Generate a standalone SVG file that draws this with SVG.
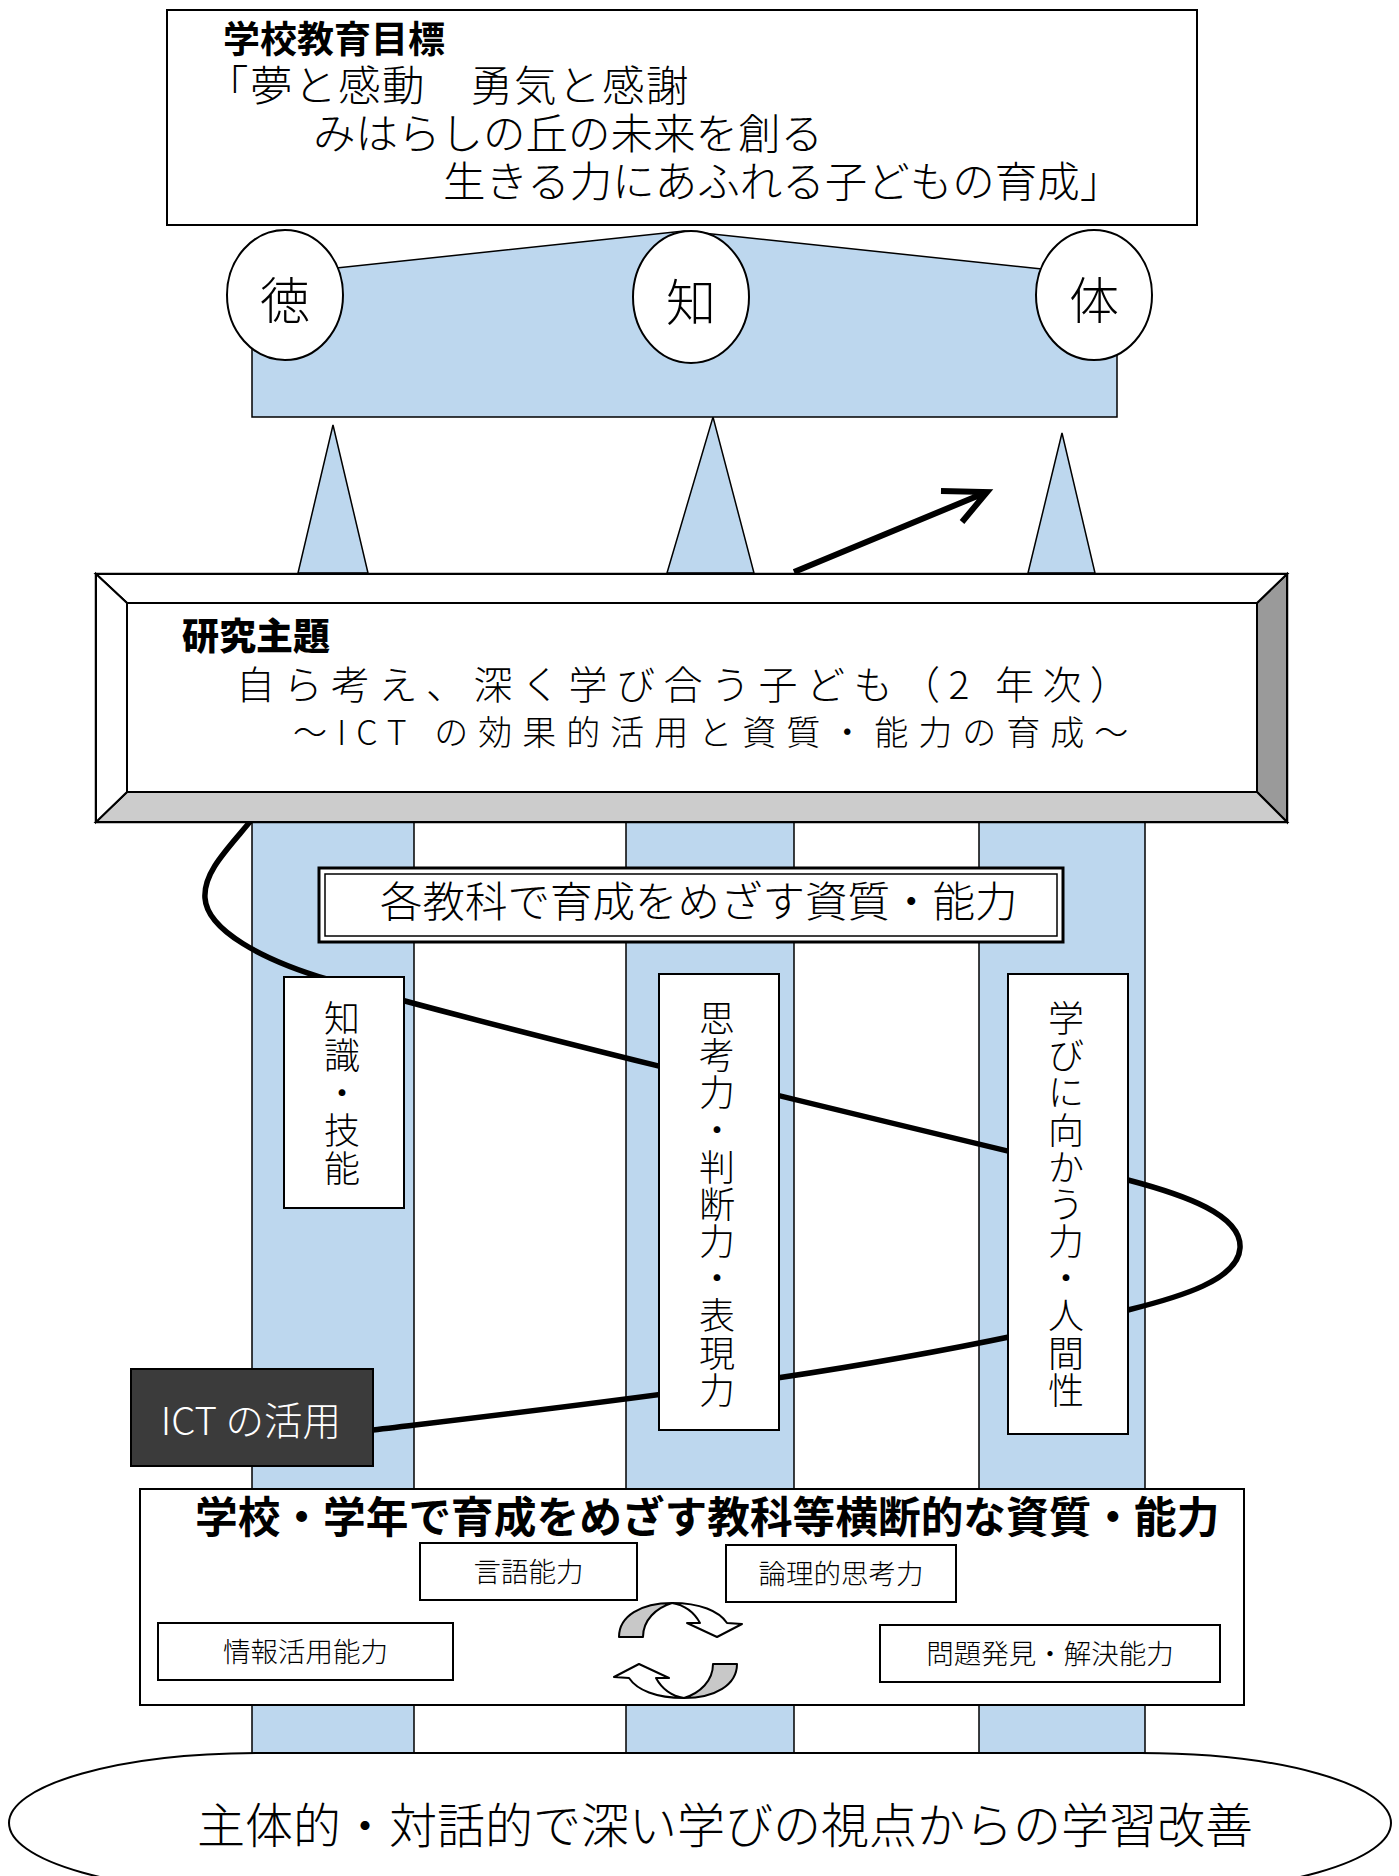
<svg xmlns="http://www.w3.org/2000/svg" width="1399" height="1876" viewBox="0 0 1399 1876">
<defs>
<style>
.b{fill:#BDD7EE;stroke:#000;stroke-width:1.5}
.w{fill:#fff;stroke:#000;stroke-width:2}
.t{font-family:'Noto Sans CJK JP','Noto Sans',sans-serif;fill:#000}
.l{font-weight:300}
.ln{fill:none;stroke:#000;stroke-width:5.5;stroke-linecap:round}
</style>
</defs>
<rect width="1399" height="1876" fill="#fff"/>

<g id="columns">
<rect class="b" x="252" y="815" width="162" height="945"/>
<rect class="b" x="626" y="815" width="168" height="945"/>
<rect class="b" x="979" y="815" width="166" height="945"/>
</g>

<g id="base-oval">
<rect x="9" y="1753" width="1382" height="140" rx="250" ry="70" fill="#fff" stroke="#000" stroke-width="2"/>
<text class="t l" x="197" y="1843" font-size="48">主体的・対話的で深い学びの視点からの学習改善</text>
</g>

<g id="cross-curricular">
<rect class="w" x="140" y="1489" width="1104" height="216" stroke-width="2.5"/>
<text class="t" x="195" y="1533" font-size="42.7" font-weight="bold">学校・学年で育成をめざす教科等横断的な資質・能力</text>
<g id="skill-language"><rect class="w" x="420" y="1543" width="217" height="57"/><text class="t l" x="528.5" y="1582" font-size="27.5" text-anchor="middle">言語能力</text></g>
<g id="skill-logic"><rect class="w" x="726" y="1545" width="230" height="57"/><text class="t l" x="841" y="1584" font-size="27.5" text-anchor="middle">論理的思考力</text></g>
<g id="skill-info"><rect class="w" x="158" y="1623" width="295" height="57"/><text class="t l" x="305.5" y="1662" font-size="27.5" text-anchor="middle">情報活用能力</text></g>
<g id="skill-problem"><rect class="w" x="880" y="1625" width="340" height="57"/><text class="t l" x="1050" y="1664" font-size="27.5" text-anchor="middle">問題発見・解決能力</text></g>
<g id="cycle-arrows" stroke="#000" stroke-width="2" stroke-linejoin="round">
<g id="cycle-up">
<path d="M619 1637 C619 1616 641 1603 672 1603 C656 1608 643 1620 643 1637 Z" fill="#c8c8c8"/>
<path d="M672 1603 C700 1603 719 1611 727 1623 L742 1624 L717 1637 L687 1623 L700 1623 C694 1612 684 1605 672 1603 Z" fill="#fff"/>
</g>
<g transform="rotate(180 678 1650.5)">
<path d="M619 1637 C619 1616 641 1603 672 1603 C656 1608 643 1620 643 1637 Z" fill="#c8c8c8"/>
<path d="M672 1603 C700 1603 719 1611 727 1623 L742 1624 L717 1637 L687 1623 L700 1623 C694 1612 684 1605 672 1603 Z" fill="#fff"/>
</g>
</g>
</g>

<g id="connectors">
<path id="ict-spiral" class="ln" d="M258 812 C232 845 203 870 205 898 C207 930 262 960 330 980 C500 1030 900 1125 1128 1180 C1185 1195 1242 1215 1240 1248 C1238 1280 1180 1297 1128 1310 C878 1372 623 1400 373 1430"/>
<path id="growth-arrow" d="M794 572 L987 492 M941 491 L987 492 L962 522" fill="none" stroke="#000" stroke-width="6" stroke-linejoin="miter"/>
</g>

<g id="subject-title">
<rect x="319" y="868" width="744" height="74" fill="#fff" stroke="#000" stroke-width="3"/>
<rect x="325" y="874" width="732" height="62" fill="none" stroke="#000" stroke-width="1.5"/>
<text class="t l" x="380" y="917" font-size="42.5">各教科で育成をめざす資質・能力</text>
</g>

<g id="knowledge">
<rect class="w" x="284" y="977" width="120" height="231"/>
<text class="t l" font-size="36" text-anchor="middle"><tspan x="342" y="1032">知</tspan><tspan x="342" y="1069">識</tspan><tspan x="342" y="1106.5">・</tspan><tspan x="342" y="1144">技</tspan><tspan x="342" y="1181.5">能</tspan></text>
</g>

<g id="thinking">
<rect class="w" x="659" y="974" width="120" height="456"/>
<text class="t l" font-size="36" text-anchor="middle"><tspan x="717" y="1032">思</tspan><tspan x="717" y="1069">考</tspan><tspan x="717" y="1106">力</tspan><tspan x="717" y="1143.5">・</tspan><tspan x="717" y="1180.5">判</tspan><tspan x="717" y="1217.5">断</tspan><tspan x="717" y="1255">力</tspan><tspan x="717" y="1292">・</tspan><tspan x="717" y="1329">表</tspan><tspan x="717" y="1366.5">現</tspan><tspan x="717" y="1403.5">力</tspan></text>
</g>

<g id="attitude">
<rect class="w" x="1008" y="974" width="120" height="460"/>
<text class="t l" font-size="36" text-anchor="middle"><tspan x="1066" y="1032">学</tspan><tspan x="1066" y="1069">び</tspan><tspan x="1066" y="1106">に</tspan><tspan x="1066" y="1143.5">向</tspan><tspan x="1066" y="1180.5">か</tspan><tspan x="1066" y="1217.5">う</tspan><tspan x="1066" y="1255">力</tspan><tspan x="1066" y="1292">・</tspan><tspan x="1066" y="1329">人</tspan><tspan x="1066" y="1366.5">間</tspan><tspan x="1066" y="1403.5">性</tspan></text>
</g>

<g id="ict">
<rect x="131" y="1369" width="242" height="97" fill="#3b3b3b" stroke="#000" stroke-width="2"/>
<text class="t l" x="251" y="1435" font-size="38.5" text-anchor="middle" style="fill:#fff">ICT の活用</text>
</g>

<g id="pillars">
<polygon class="b" points="298,573 333,425 368,573"/>
<polygon class="b" points="667,573 713,417 754,573"/>
<polygon class="b" points="1028,573 1062,433 1095,573"/>
</g>

<g id="research-theme">
<rect x="96" y="574" width="1191" height="248" fill="#fff" stroke="#000" stroke-width="2.5"/>
<polygon points="1287,574 1257,603 1257,792 1287,822" fill="#9a9a9a" stroke="#000" stroke-width="2"/>
<polygon points="96,822 127,792 1257,792 1287,822" fill="#cccccc" stroke="#000" stroke-width="2"/>
<polygon points="96,574 127,603 1257,603 1287,574" fill="#fff" stroke="#000" stroke-width="2"/>
<polygon points="96,574 127,603 127,792 96,822" fill="#fff" stroke="#000" stroke-width="2"/>
<rect x="127" y="603" width="1130" height="189" fill="#fff" stroke="#000" stroke-width="2"/>
<text class="t" x="182" y="650" font-size="37" font-weight="900">研究主題</text>
<text class="t l" x="236" y="699" font-size="39" letter-spacing="8.5">自ら考え、深く学び合う子ども（2 年次）</text>
<text class="t l" x="293" y="745" font-size="34" letter-spacing="10">～ICT の効果的活用と資質・能力の育成～</text>
</g>

<g id="virtues">
<polygon class="b" points="252,277 684,231 1117,277 1117,417 252,417"/>
<g id="toku"><ellipse class="w" cx="285" cy="295" rx="58" ry="65"/><text class="t l" x="285" y="319" font-size="50" text-anchor="middle">徳</text></g>
<g id="chi"><ellipse class="w" cx="691" cy="297" rx="58" ry="66"/><text class="t l" x="691" y="321" font-size="50" text-anchor="middle">知</text></g>
<g id="tai"><ellipse class="w" cx="1094" cy="295" rx="58" ry="65"/><text class="t l" x="1094" y="319" font-size="50" text-anchor="middle">体</text></g>
</g>

<g id="school-goal">
<rect class="w" x="167" y="10" width="1030" height="215"/>
<text class="t" x="223" y="53" font-size="37" font-weight="bold">学校教育目標</text>
<text class="t l" x="206" y="101" font-size="42.5" letter-spacing="1.5">「夢と感動　勇気と感謝</text>
<text class="t l" x="313" y="149" font-size="42.5">みはらしの丘の未来を創る</text>
<text class="t l" x="443" y="197" font-size="42.5">生きる力にあふれる子どもの育成」</text>
</g>
</svg>
